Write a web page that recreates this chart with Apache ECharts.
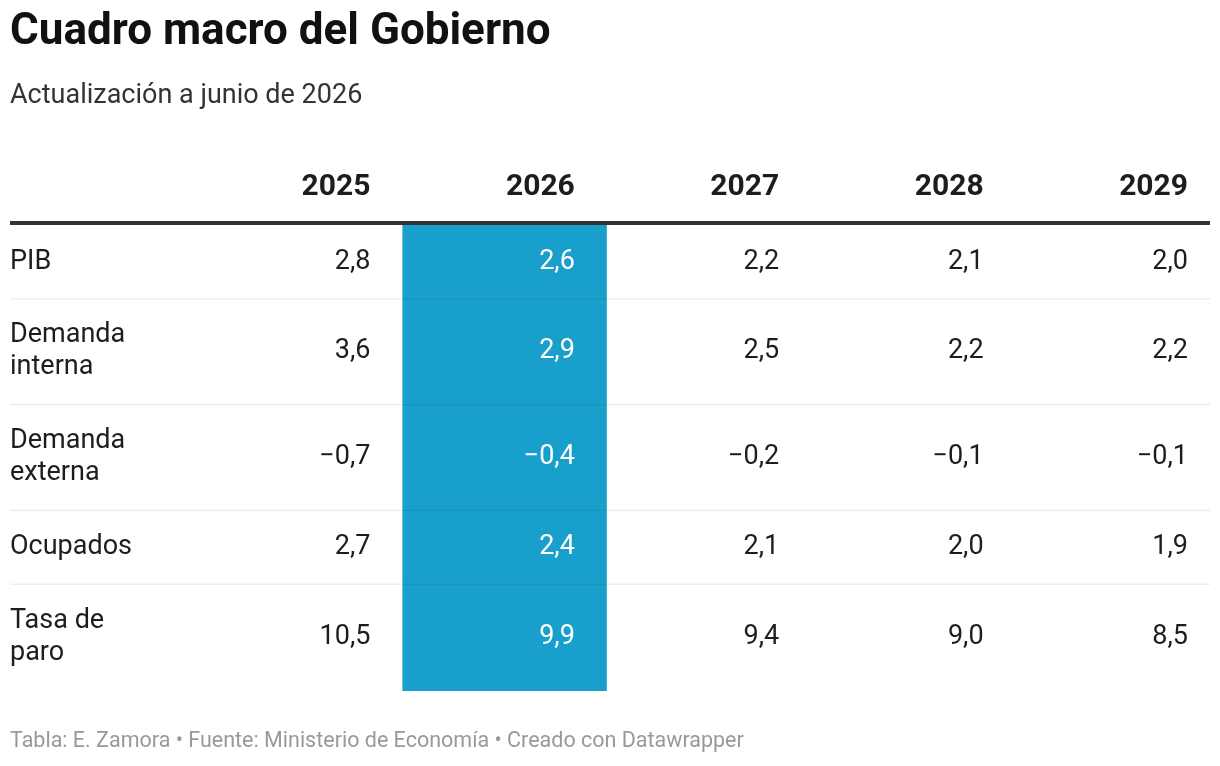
<!DOCTYPE html>
<html><head><meta charset="utf-8">
<script src="https://cdn.jsdelivr.net/npm/echarts@6/dist/echarts.min.js"></script>
<style>html,body{margin:0;padding:0;background:#fff}#c{width:1220px;height:766px}</style>
</head><body><div id="c"></div>
<script>
const years = ['2025','2026','2027','2028','2029'];
const rowLabels = ['PIB','Demanda\ninterna','Demanda\nexterna','Ocupados','Tasa de\nparo'];
const PIB = [2.8,2.6,2.2,2.1,2.0];
const demandaInterna = [3.6,2.9,2.5,2.2,2.2];
const demandaExterna = [-0.7,-0.4,-0.2,-0.1,-0.1];
const ocupados = [2.7,2.4,2.1,2.0,1.9];
const tasaParo = [10.5,9.9,9.4,9.0,8.5];
const highlightYear = '2026';
const rows = [PIB,demandaInterna,demandaExterna,ocupados,tasaParo];

const fmt = v => (v<0?'\u2212':'') + Math.abs(v).toFixed(1).replace('.',',');
const rowH = l => l.includes('\n') ? 106 : 74;
const bounds = [0]; rowLabels.forEach(l=>bounds.push(bounds[bounds.length-1]+rowH(l)));
const total = bounds[bounds.length-1];

const data = [];
rows.forEach((r,ri)=>r.forEach((v,ci)=>data.push([ci,ri,v])));

const chart = echarts.init(document.getElementById('c'));
const F='Roboto';
function renderItem(params, api){
  const ci=api.value(0), ri=api.value(1), v=api.value(2);
  const band = api.coord([1,0])[0]-api.coord([0,0])[0];
  const cx = api.coord([ci, bounds[ri]])[0];
  const right = cx + band/2 - 32;
  const y0 = api.coord([ci,bounds[ri]])[1], y1 = api.coord([ci,bounds[ri+1]])[1];
  const yc=(y0+y1)/2;
  const children=[];
  const hl = years[ci]===highlightYear;
  if(hl){children.push({type:'rect',shape:{x:cx-band/2,y:y0,width:band,height:y1-y0+1},style:{fill:'#199fcb'}});}
  children.push({type:'text',style:{text:fmt(v),x:right,y:yc,align:'right',verticalAlign:'middle',font:'27px '+F,fill:hl?'#fff':'#1d1d1d'}});
  if(ci===0){
    children.push({type:'text',style:{text:rowLabels[ri],x:10,y:yc,align:'left',verticalAlign:'middle',font:'27px '+F,lineHeight:32,fill:'#1d1d1d'}});
  }
  if(ri<rows.length-1){
    const x0 = ci===0?10:cx-band/2, x1 = ci===years.length-1?1210:cx+band/2;
    children.push({type:'line',shape:{x1:x0,y1:y1,x2:x1,y2:y1},style:{stroke:hl?'rgba(0,0,0,0.08)':'#e6e6e6',lineWidth:1},z2:5});
  }
  if(ri===0){
    children.push({type:'text',style:{text:years[ci],x:right,y:187,align:'right',verticalAlign:'middle',font:'bold 30px '+F,fill:'#1d1d1d'}});
  }
  return {type:'group',children};
}
chart.setOption({
  animation:false,
  title:[{text:'Cuadro macro del Gobierno',left:5,top:6,textStyle:{fontFamily:F,fontSize:44,fontWeight:'bold',color:'#111'}},
         {text:'Actualización a junio de 2026',left:5,top:78,textStyle:{fontFamily:F,fontSize:27,fontWeight:'normal',color:'#333'}},
         {text:'Tabla: E. Zamora • Fuente: Ministerio de Economía • Creado con Datawrapper',left:5,top:726,textStyle:{fontFamily:F,fontSize:21.5,fontWeight:'normal',color:'#999'}}],
  graphic:[{type:'line',shape:{x1:10,y1:223,x2:1210,y2:223},style:{stroke:'#333',lineWidth:4}}],
  grid:{left:198,width:1044,top:225,height:465},
  xAxis:{type:'category',data:years,show:false},
  yAxis:{type:'value',min:0,max:total,inverse:true,show:false},
  series:[{type:'custom',renderItem,data,encode:{x:0,y:1}}]
});
</script></body></html>
